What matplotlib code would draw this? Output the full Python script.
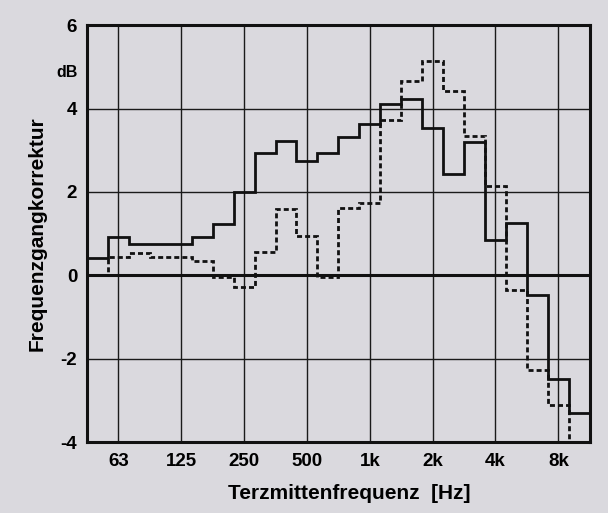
import numpy as np
import matplotlib
matplotlib.use("Agg")
import matplotlib.pyplot as plt

# third-octave bands, 50 Hz ... 10 kHz (index relative to 1 kHz)
band_index = list(range(-13, 11))
solid_db = [0.42, 0.92, 0.75, 0.75, 0.75, 0.93, 1.22, 2.0, 2.93, 3.22, 2.74, 2.93,
            3.32, 3.62, 4.1, 4.22, 3.54, 2.42, 3.2, 0.84, 1.25, -0.46, -2.48, -3.3]
dashed_db = [0.0, 0.43, 0.53, 0.43, 0.43, 0.35, -0.05, -0.27, 0.56, 1.6, 0.95, -0.05,
             1.62, 1.74, 3.72, 4.65, 5.15, 4.42, 3.33, 2.14, -0.36, -2.28, -3.1, -4.6]
tick_freqs = [62.5, 125, 250, 500, 1000, 2000, 4000, 8000]
tick_labels = ["63", "125", "250", "500", "1k", "2k", "4k", "8k"]
y_ticks = [-4, -2, 0, 2, 4, 6]

bg = "#dad9de"
plt.rcParams['font.family'] = ['Liberation Sans', 'DejaVu Sans']
plt.rcParams['font.weight'] = 'bold'

centers = 1000.0 * 2.0 ** (np.array(band_index) / 3.0)
edges = np.append(centers * 2.0 ** (-1 / 6), centers[-1] * 2.0 ** (1 / 6))

fig = plt.figure(figsize=(6.08, 5.13), dpi=100, facecolor=bg)
ax = fig.add_axes([0.143, 0.138, 0.827, 0.813])
ax.set_facecolor(bg)
ax.set_xscale("log")
ax.set_xlim(edges[0], edges[-1])
ax.set_ylim(-4, 6)

ax.set_xticks(tick_freqs)
ax.set_xticklabels(tick_labels)
ax.xaxis.set_minor_locator(matplotlib.ticker.NullLocator())
ax.set_yticks(y_ticks)
ax.set_yticklabels([str(v) for v in y_ticks])
ax.tick_params(axis="both", length=0, labelsize=13.5)
ax.tick_params(axis="x", pad=8)
ax.tick_params(axis="y", pad=7)
ax.grid(True, color="#1a1a1a", linewidth=1.0)
ax.set_axisbelow(True)
for s in ax.spines.values():
    s.set_linewidth(2.2)
    s.set_color("#111111")

ax.axhline(0, color="#111111", linewidth=2.2, zorder=2)

ax.stairs(dashed_db, edges, color="#111111", linewidth=2.0,
          linestyle=(0, (1.8, 1.1)), baseline=None, zorder=3)
ax.stairs(solid_db, edges, color="#111111", linewidth=2.0,
          baseline=None, zorder=4)

ax.text(-0.018, 4.87, "dB", transform=ax.get_yaxis_transform(),
        ha="right", va="center", fontsize=11.5, fontweight="bold")
ax.set_ylabel("Frequenzgangkorrektur", fontsize=15, fontweight="bold")
ax.yaxis.set_label_coords(-0.08, 0.5)
ax.set_xlabel("Terzmittenfrequenz  [Hz]", fontsize=15, fontweight="bold")
ax.xaxis.set_label_coords(0.522, -0.1)

fig.savefig("out.png", dpi=100, facecolor=bg)
